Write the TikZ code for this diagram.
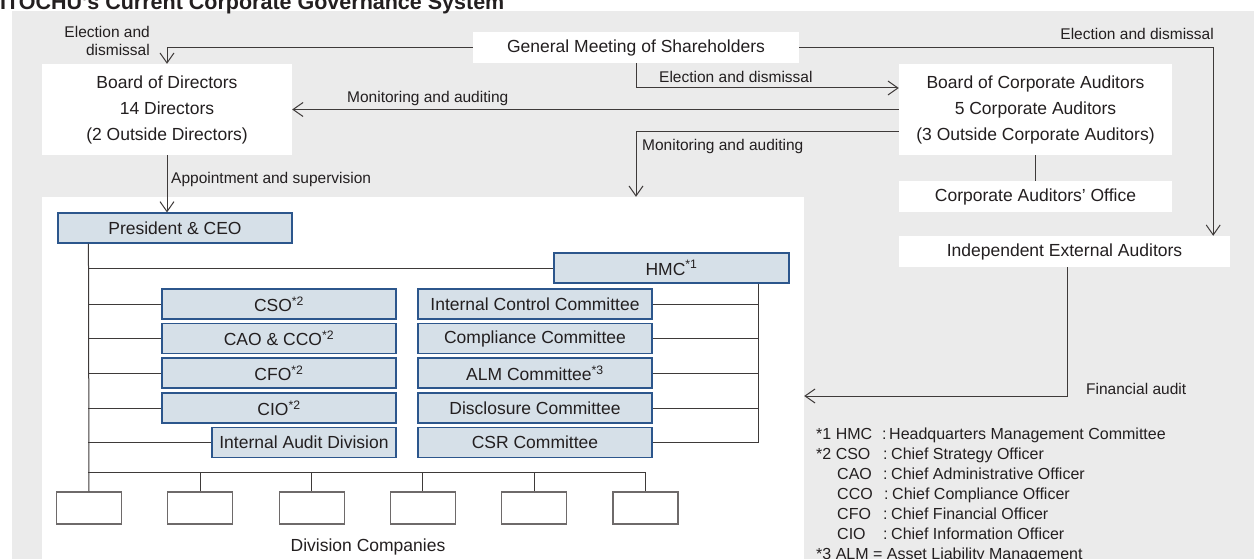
\documentclass[tikz,border=0pt]{standalone}
\usepackage{fontspec}
\setmainfont{Liberation Sans}
\usetikzlibrary{arrows.meta}
\definecolor{bg}{HTML}{EBEBEB}
\definecolor{txt}{HTML}{231F20}
\definecolor{ln}{HTML}{3E3A39}
\definecolor{boxfill}{HTML}{D6E0E8}
\definecolor{boxline}{HTML}{2C568C}
\definecolor{dcline}{HTML}{6E6A6A}
\tikzset{
  wbox/.style={fill=white, draw=none, inner sep=0pt, text=txt, align=center,
    font=\fontsize{17.5}{26}\selectfont},
  bbox/.style={fill=boxfill, draw=boxline, line width=1.1pt, inner sep=0pt, text=txt,
    minimum height=30pt, font=\fontsize{17.5}{21}\selectfont},
  dbox/.style={draw=dcline, line width=1.1pt, fill=white, minimum width=65pt, minimum height=32pt, inner sep=0pt},
  conn/.style={draw=ln, line width=1pt},
  arr/.style={conn, -{Straight Barb[length=10pt,width=14pt,line width=1pt]}},
  lbl/.style={font=\fontsize{15.5}{18}\selectfont, text=txt, inner sep=0pt},
  leg/.style={font=\fontsize{16}{18}\selectfont, text=txt, inner sep=0pt, anchor=base west}
}
\begin{document}
\begin{tikzpicture}[x=1pt,y=-1pt]
\useasboundingbox (0,0) rectangle (1254,559);
% background
\fill[bg] (12,11) rectangle (1254,570);
\node[anchor=base west, inner sep=0pt, text=txt, font=\bfseries\fontsize{21.5}{24}\selectfont] (title) at (0,9.5) {ITOCHU's Current Corporate Governance System};
% management area
\node[fill=white, draw=none, minimum width=762pt, minimum height=378pt, inner sep=0pt] (mgmt) at (423,386) {};

% top level boxes
\node[wbox, minimum width=250pt, minimum height=91pt] (bod) at (167,109.5) {Board of Directors\\14 Directors\\(2 Outside Directors)};
\node[wbox, minimum width=326pt, minimum height=31pt] (gms) at (636,47.5) {General Meeting of Shareholders};
\node[wbox, minimum width=273pt, minimum height=91pt] (bca) at (1035.5,109.5) {Board of Corporate Auditors\\5 Corporate Auditors\\(3 Outside Corporate Auditors)};
\node[wbox, minimum width=273pt, minimum height=31pt] (cao) at (1035.5,196.5) {Corporate Auditors’ Office};
\node[wbox, minimum width=331pt, minimum height=31pt] (iea) at (1064.5,251.5) {Independent External Auditors};

% management boxes
\node[bbox, minimum width=234pt] (pres) at (175,228) {President \& CEO};
\node[bbox, minimum width=235pt] (hmc) at (671.5,268) {HMC\textsuperscript{*1}};
\node[bbox, minimum width=234pt] (cso) at (279,304) {CSO\textsuperscript{*2}};
\node[bbox, minimum width=234pt] (caocco) at (279,338.5) {CAO \& CCO\textsuperscript{*2}};
\node[bbox, minimum width=234pt] (cfo) at (279,373) {CFO\textsuperscript{*2}};
\node[bbox, minimum width=234pt] (cio) at (279,408) {CIO\textsuperscript{*2}};
\node[bbox, minimum width=184pt] (iad) at (304,442.5) {Internal Audit Division};
\node[bbox, minimum width=234pt] (icc) at (535,304) {Internal Control Committee};
\node[bbox, minimum width=234pt] (cc) at (535,338.5) {Compliance Committee};
\node[bbox, minimum width=234pt] (alm) at (535,373) {ALM Committee\textsuperscript{*3}};
\node[bbox, minimum width=234pt] (dcm) at (535,408) {Disclosure Committee};
\node[bbox, minimum width=234pt] (csr) at (535,442.5) {CSR Committee};

% division companies
\foreach \i in {1,...,6} {
  \node[dbox] (dc\i) at ({89+111.3*(\i-1)},508) {};
}
\node[lbl, font=\fontsize{17.5}{21}\selectfont] (divc) at (368,547) {Division Companies};

% connectors (top)
\draw[arr] (gms.west) -| (bod.north);
\draw[arr] (gms.east) -| ([xshift=-17pt]iea.north east);
\draw[arr] (gms.south) |- ([yshift=21.5pt]bca.west);
\draw[arr] (bca.west) -- (bod.east);
\draw[arr] ([yshift=-22.5pt]bca.west) -| (gms.south |- mgmt.north);
\draw[arr] (bod.south) -- (bod.south |- pres.north);
\draw[conn] (bca.south) -- (cao.north);
\draw[arr] ([xshift=2.5pt]iea.south) |- ([yshift=-10pt]mgmt.east);

% labels
\node[lbl, anchor=east, align=right] (l1) at (150,41) {Election and\\dismissal};
\node[lbl, anchor=east] (l2) at (1214,34) {Election and dismissal};
\node[lbl, anchor=west] (l3) at (659,77) {Election and dismissal};
\node[lbl, anchor=west] (l4) at (347,98) {Monitoring and auditing};
\node[lbl, anchor=west] (l5) at (642,146) {Monitoring and auditing};
\node[lbl, anchor=west] (l6) at (171,179) {Appointment and supervision};
\node[lbl, anchor=west] (l7) at (1086,389) {Financial audit};

% management tree
\coordinate (t0) at ([xshift=31pt]pres.south west);
\coordinate (bus) at (0,472);
\draw[conn] (t0) -- (dc1.north);
\draw[conn] (t0 |- hmc.west) -- (hmc.west);
\foreach \n in {cso,caocco,cfo,cio,iad} {
  \draw[conn] (t0 |- \n.west) -- (\n.west);
}
\draw[conn] (t0 |- bus) -- (dc6.north |- bus);
\foreach \i in {2,...,6} {
  \draw[conn] (dc\i.north |- bus) -- (dc\i.north);
}
\coordinate (hb) at ([xshift=-31pt]hmc.south east);
\draw[conn] (hb) |- (csr.east);
\foreach \n in {icc,cc,alm,dcm} {
  \draw[conn] (\n.east) -- (\n.east -| hb);
}

% legend
\node[leg] (g1a) at (816,439) {*1 HMC};
\node[leg] (g1b) at (882,439) {:};
\node[leg] (g1c) at (889,439) {Headquarters Management Committee};
\node[leg] (g2a) at (816,459) {*2 CSO};
\node[leg] (g2b) at (883,459) {:};
\node[leg] (g2c) at (891,459) {Chief Strategy Officer};
\node[leg] (g3a) at (837,479) {CAO};
\node[leg] (g3b) at (883,479) {:};
\node[leg] (g3c) at (891,479) {Chief Administrative Officer};
\node[leg] (g4a) at (837,499) {CCO};
\node[leg] (g4b) at (884,499) {:};
\node[leg] (g4c) at (892,499) {Chief Compliance Officer};
\node[leg] (g5a) at (837,519) {CFO};
\node[leg] (g5b) at (883,519) {:};
\node[leg] (g5c) at (891,519) {Chief Financial Officer};
\node[leg] (g6a) at (837,539) {CIO};
\node[leg] (g6b) at (883,539) {:};
\node[leg] (g6c) at (891,539) {Chief Information Officer};
\node[leg] (g7a) at (816,559) {*3 ALM = Asset Liability Management};
\end{tikzpicture}
\end{document}
